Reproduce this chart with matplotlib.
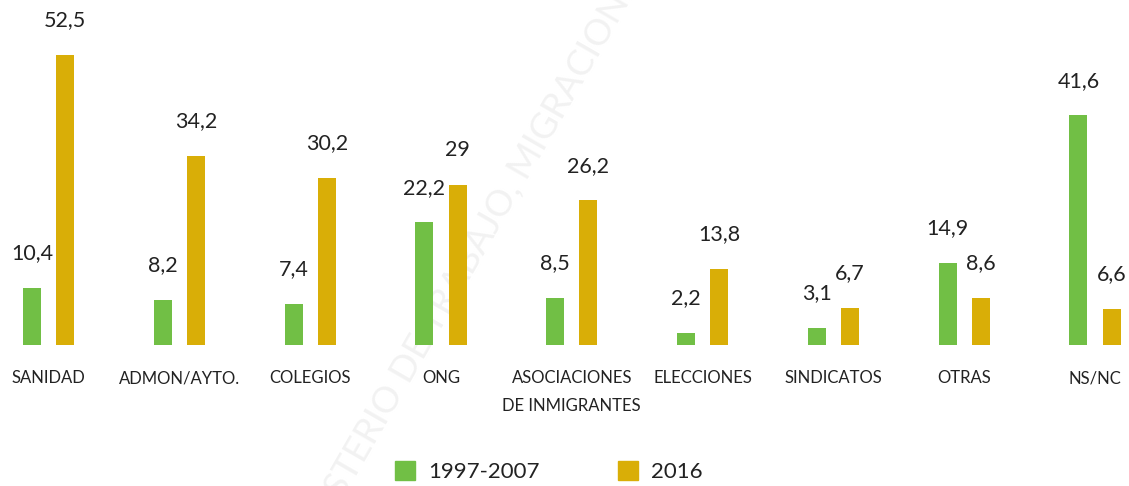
import matplotlib.pyplot as plt
from matplotlib.patches import Patch
import numpy as np

# datos
categorias = ['SANIDAD', 'ADMON/AYTO.', 'COLEGIOS', 'ONG', 'ASOCIACIONES\nDE INMIGRANTES',
              'ELECCIONES', 'SINDICATOS', 'OTRAS', 'NS/NC']
serie_1997 = [10.4, 8.2, 7.4, 22.2, 8.5, 2.2, 3.1, 14.9, 41.6]
serie_2016 = [52.5, 34.2, 30.2, 29, 26.2, 13.8, 6.7, 8.6, 6.6]
etiquetas_1997 = ['10,4', '8,2', '7,4', '22,2', '8,5', '2,2', '3,1', '14,9', '41,6']
etiquetas_2016 = ['52,5', '34,2', '30,2', '29', '26,2', '13,8', '6,7', '8,6', '6,6']
nombres = ['1997-2007', '2016']

verde = '#71bf45'
oro = '#d9ae07'
texto = '#222222'

plt.rcParams['font.family'] = ['Lato', 'DejaVu Sans']

fig = plt.figure(figsize=(11.29, 4.86), dpi=100)
ax = fig.add_axes([0, 0.2901, 1, 0.7099])

# marca de agua (detras de las barras)
fig.text(0.414, 0.459, 'MINISTERIO DE TRABAJO, MIGRACIONES',
         rotation=60, fontsize=26, color='#f2f2f2', ha='center', va='center',
         rotation_mode='anchor', zorder=-1)

x = np.arange(len(categorias))
sep = 0.127
ancho = 0.138
b1 = ax.bar(x - sep, serie_1997, ancho, color=verde, zorder=2)
b2 = ax.bar(x + sep, serie_2016, ancho, color=oro, zorder=2)

for barras, etiquetas in ((b1, etiquetas_1997), (b2, etiquetas_2016)):
    for b, et in zip(barras, etiquetas):
        ax.annotate(et, (b.get_x() + b.get_width() / 2, b.get_height()),
                    xytext=(0, 25), textcoords='offset points',
                    ha='center', va='center', fontsize=15.5, color=texto)

ax.set_xlim(-0.371, 8.26)
ax.set_ylim(0, 62.5)
ax.set_xticks(x)
ax.set_xticklabels(categorias, fontsize=12, color=texto, linespacing=1.9)
ax.tick_params(axis='x', length=0, pad=18)
ax.set_yticks([])
for s in ax.spines.values():
    s.set_visible(False)
ax.patch.set_alpha(0)

manejadores = [Patch(color=verde), Patch(color=oro)]
fig.legend(manejadores, nombres, loc='center', bbox_to_anchor=(0.486, 0.029), ncol=2,
           frameon=False, fontsize=16, handlelength=0.9, handleheight=0.9,
           handletextpad=0.6, columnspacing=3.5, labelcolor=texto)

plt.savefig('out.png', dpi=100)
